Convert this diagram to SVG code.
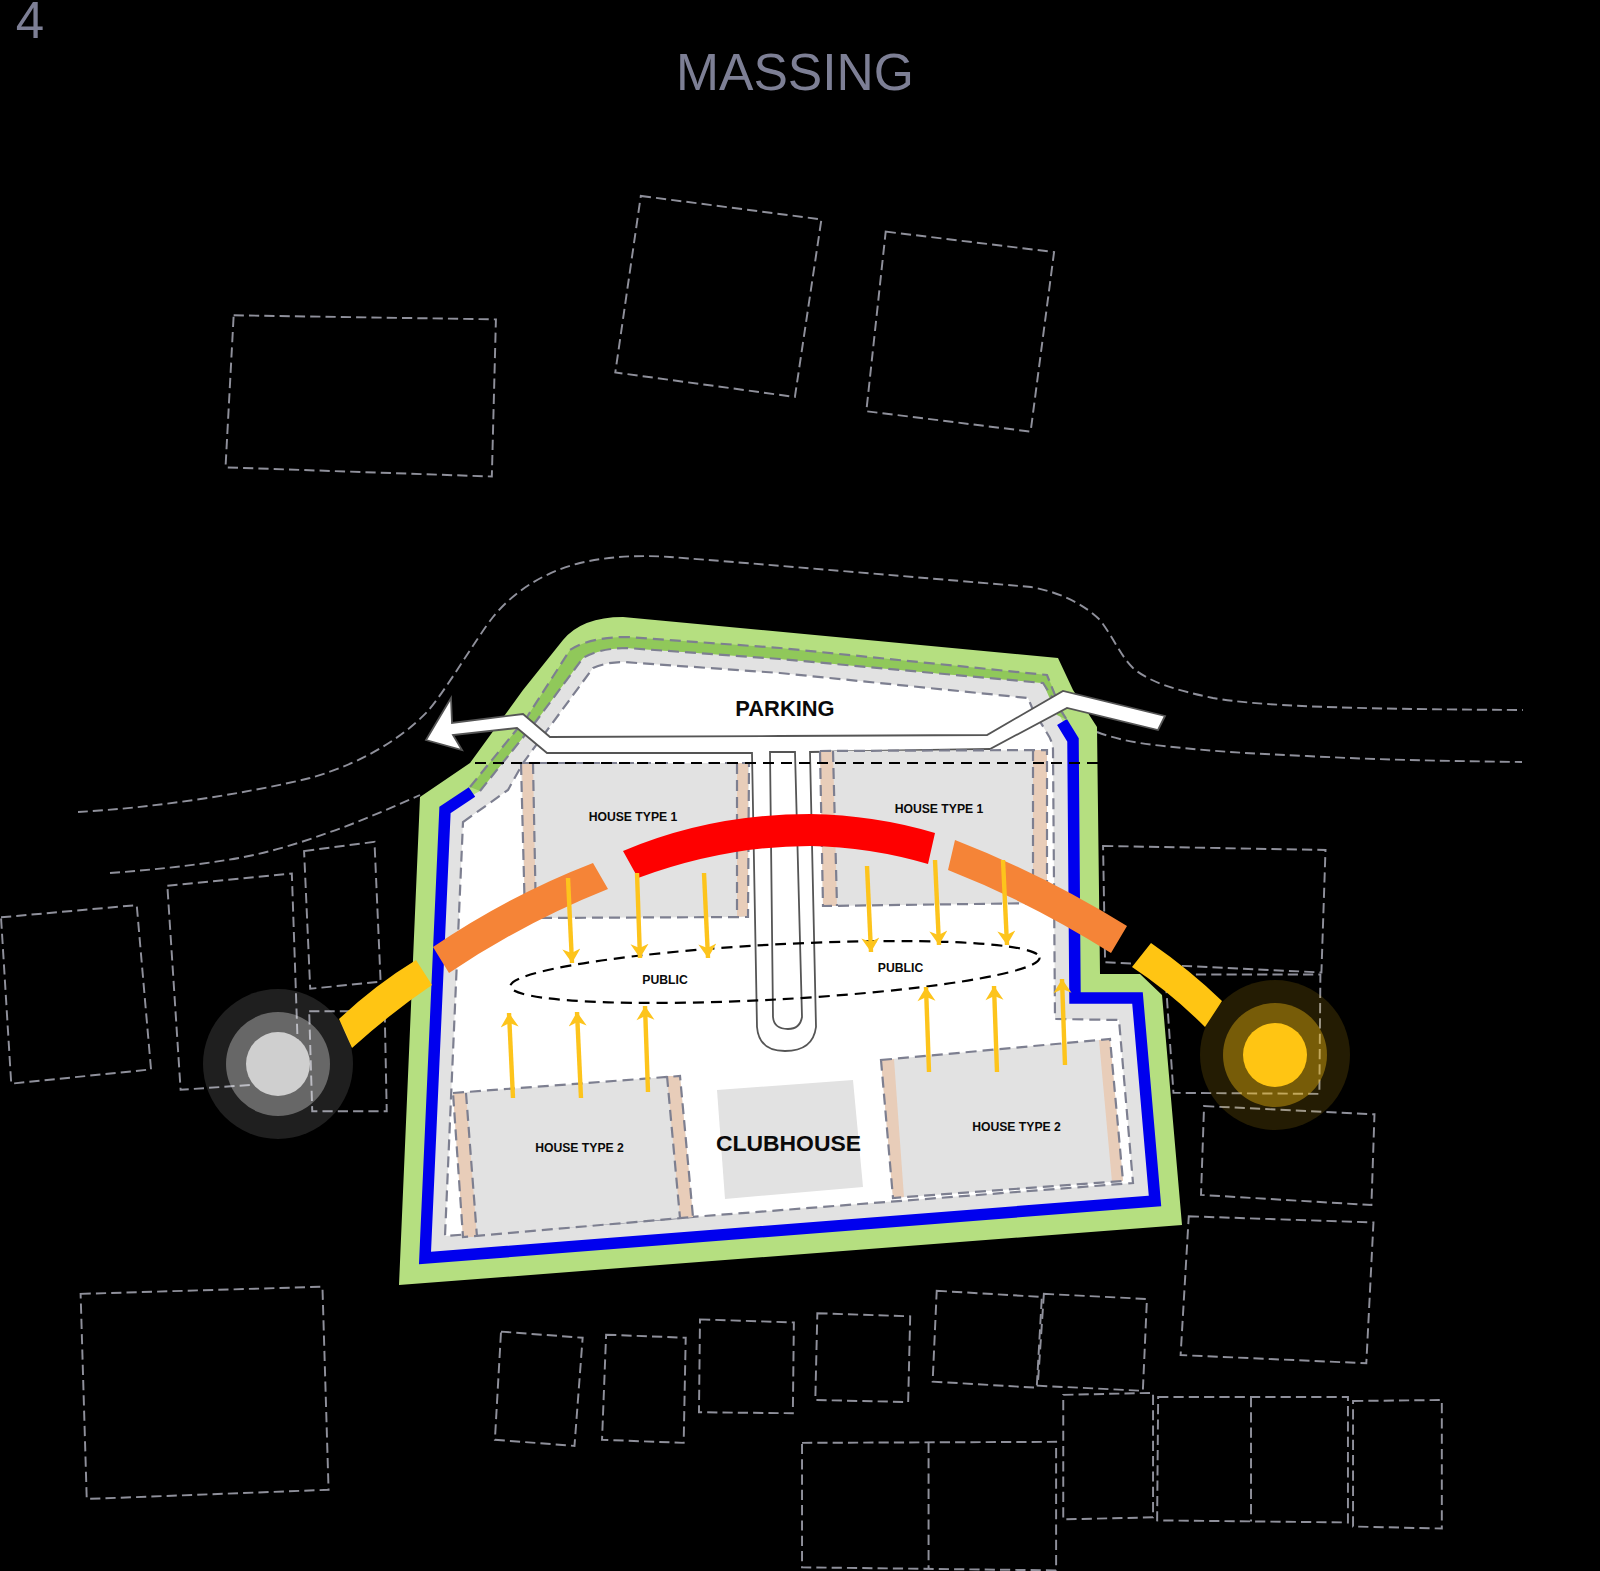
<svg xmlns="http://www.w3.org/2000/svg" width="1600" height="1571" viewBox="0 0 1600 1571">
<style>
text{font-family:"Liberation Sans",Arial,sans-serif;text-anchor:middle;fill:#0a0a0a}
.b{font-weight:700}
.s{font-size:12.2px;font-weight:700}
.ctx{fill:none;stroke:#8f909b;stroke-width:1.9;stroke-dasharray:10 5}
.gd{fill:none;stroke:#7d7f90;stroke-width:2.2;stroke-dasharray:11 6}
.house{fill:#e2e2e2}
.tan{fill:#e8cdb9}
.rd{fill:#fff;stroke:#555;stroke-width:1.8}
.ar{fill:none;stroke:#fdc41c;stroke-width:4.4;marker-end:url(#chev)}
</style>
<defs>
<marker id="chev" markerUnits="userSpaceOnUse" markerWidth="24" markerHeight="24" refX="15" refY="9" orient="auto">
<path d="M1,0 L15,9 L1,18 L5,9 Z" fill="#fdc41c"/>
</marker>
</defs>
<rect width="1600" height="1571" fill="#000"/>
<text x="30" y="38" font-size="51" style="fill:#7d7f95">4</text>
<text x="795" y="90" font-size="51.6" style="fill:#7d7f95">MASSING</text>

<g id="context" transform="scale(1.0204)">
<path class="ctx" d="M229,309 L486,313 L482,467 L221,458 Z"/>
<path class="ctx" d="M628,192 L805,215 L779,389 L603,365 Z"/>
<path class="ctx" d="M868,227 L1033,247 L1010,423 L849,403 Z"/>
<path class="ctx" d="M1,899 L134,887 L148,1048 L11,1062 Z"/>
<path class="ctx" d="M164,868 L286,856 L293,1060 L177,1068 Z"/>
<path class="ctx" d="M298,834 L367,825 L373,962 L304,969 Z"/>
<path class="ctx" d="M303,991 L377,991 L379,1089 L306,1089 Z"/>
<path class="ctx" d="M1081,829 L1299,833 L1295,953 L1083,943 Z"/>
<path class="ctx" d="M1142,955 L1294,955 L1293,1072 L1150,1071 Z"/>
<path class="ctx" d="M1180,1084 L1347,1092 L1344,1181 L1177,1171 Z"/>
<path class="ctx" d="M1165,1192 L1346,1198 L1339,1336 L1157,1328 Z"/>
<path class="ctx" d="M79,1268 L316,1261 L322,1460 L85,1469 Z"/>
<path class="ctx" d="M491,1305 L571,1311 L563,1417 L485,1411 Z"/>
<path class="ctx" d="M594,1308 L672,1311 L670,1414 L590,1411 Z"/>
<path class="ctx" d="M686,1293 L778,1296 L777,1385 L685,1384 Z"/>
<path class="ctx" d="M801,1287 L892,1290 L890,1374 L799,1372 Z"/>
<path class="ctx" d="M918,1265 L1021,1271 L1016,1360 L914,1354 Z"/>
<path class="ctx" d="M1023,1268 L1124,1273 L1120,1363 L1017,1358 Z"/>
<path class="ctx" d="M1042,1367 L1130,1365 L1130,1487 L1042,1489 Z"/>
<path class="ctx" d="M1135,1369 L1321,1369 L1321,1492 L1134,1490 Z M1226,1369 L1226,1491"/>
<path class="ctx" d="M1326,1373 L1413,1372 L1413,1498 L1326,1496 Z"/>
<path class="ctx" d="M786,1414 L1035,1413 L1035,1539 L786,1536 Z M910,1414 L910,1538"/>
</g>
<g id="roads">
<path class="ctx" d="M78,812 C150,808 240,795 310,778 C350,767 395,745 427,712 C445,692 475,640 493,617 C515,590 545,572 580,563 C610,556 640,555 670,557 C750,563 960,581 1031,587 C1060,592 1085,605 1100,620 C1115,640 1120,655 1133,668 C1150,683 1180,691 1213,698 C1260,706 1340,709 1523,710"/>
<path class="ctx" d="M110,873 C150,870 190,866 227,860 C260,855 295,845 327,833 C360,822 390,808 420,795"/>
<path class="ctx" d="M1097,732 C1120,741 1150,745 1173,747 C1220,752 1260,754 1307,756 C1380,760 1450,761 1522,762"/>
</g>

<g id="site">
<path d="M399,1285 L420,797 L470,763 L523,690 L563,640 Q582,617 623,617 L1058,658 L1073,690 L1097,727 L1100,974 L1140,974 L1162,995 L1182,1225 Z" fill="#b5df80"/>
<path d="M425,1258 L1155,1201 L1137.5,998 L1075,998 L1073,740 L1062,720 L1043,683 L780,659 L627,648 Q600,648 583,658 L537,720 L480,791 L445,810 Z" fill="#e2e2e2"/>
<path d="M472,792 L445,810 L425,1258 L1155,1201 L1137.5,998 L1075,998 L1073,740 L1062,722" fill="none" stroke="#0000ee" stroke-width="11.5"/>
<path d="M470,787 L527,717 L570,650 Q590,637 627,637 L780,648 L1047,675 L1067,720 L1057,715 L1043,683 L780,659 L627,648 Q600,648 583,658 L537,720 L480,791 Z" fill="#90c85a"/>
<path class="gd" d="M470,787 L527,717 L570,650 Q590,637 627,637 L780,648 L1047,675 L1055,695"/>
<path class="gd" d="M480,791 L537,720 L583,658 Q600,648 627,648 L780,659 L1043,683 L1067,720"/>
<path class="gd" style="fill:#fff" d="M463,822 L508,790 L523,763 L593,668 Q607,662 623,662 L780,673 L1028,698 L1033,710 L1047,733 Q1053,742 1053,750 L1055,1019 L1119,1020 L1133,1183 L445,1236 Z"/>
</g>

<g id="road" >
<path class="rd" d="M426,740 L451,698 L452,723 L523,714 L550,737 L780,736 L987,735 L1063,691 L1165,716 L1158,730 L1067,708 L990,749 L810,752 L816,1027 Q813,1051 785,1051 Q759,1051 757,1027 L752,753 L547,753 L517,728 L453,735 L462,750 Z"/>
<path class="rd" d="M770,752 L795,752 L802,1017 Q800,1029 788,1029 Q774,1029 773,1017 Z"/>
</g>

<g id="house-1-left">
<path class="house" d="M521,763 L749,763 L748,917 L525,918 Z"/>
<path class="tan" d="M522,763 L533,763 L536,918 L525,918 Z M737,763 L748,763 L748,916 L737,917 Z"/>
<path class="gd" d="M521,763 L749,763 L748,917 L525,918 Z M533,763 L536,918 M737,763 L737,917"/>
<text class="s" x="633" y="821">HOUSE TYPE 1</text>
</g>
<g id="house-1-right">
<path class="house" d="M820,751 L1047,750 L1047,903 L823,906 Z"/>
<path class="tan" d="M820,751 L833,751 L837,906 L823,906 Z M1033,750 L1047,750 L1047,903 L1033,903 Z"/>
<path class="gd" d="M820,751 L1047,750 L1047,903 L823,906 Z M833,751 L837,906 M1033,750 L1033,903"/>
<text class="s" x="939" y="813">HOUSE TYPE 1</text>
</g>
<g id="house-2-left">
<path class="house" d="M453,1093 L680,1076 L693,1217 L463,1237 Z"/>
<path class="tan" d="M453,1093 L466,1093 L477,1237 L463,1237 Z M667,1076 L680,1076 L693,1217 L680,1218 Z"/>
<path class="gd" d="M453,1093 L680,1076 L693,1217 L463,1237 Z M466,1093 L477,1237 M667,1076 L680,1218"/>
<text class="s" x="579.5" y="1152">HOUSE TYPE 2</text>
</g>
<g id="house-2-right">
<path class="house" d="M881,1060 L1110,1039 L1123,1181 L893,1198 Z"/>
<path class="tan" d="M881,1060 L894,1059 L904,1197 L893,1198 Z M1099,1040 L1110,1039 L1123,1181 L1112,1182 Z"/>
<path class="gd" d="M881,1060 L1110,1039 L1123,1181 L893,1198 Z"/>
<text class="s" x="1016.5" y="1131">HOUSE TYPE 2</text>
</g>
<g id="clubhouse">
<path class="house" d="M717,1090 L853,1080 L863,1187 L725,1199 Z"/>
<text class="b" x="788.5" y="1151" font-size="22.9">CLUBHOUSE</text>
</g>
<g id="parking"><text class="b" x="785" y="716" font-size="21.9">PARKING</text></g>

<g id="public">
<ellipse cx="775" cy="972" rx="265" ry="27.5" transform="rotate(-3.1 775 972)" fill="none" stroke="#000" stroke-width="2.2" stroke-dasharray="11 7"/>
<text class="s" x="665" y="984">PUBLIC</text>
<text class="s" x="900.5" y="972">PUBLIC</text>
</g>
<path d="M475,763 H1100" fill="none" stroke="#000" stroke-width="2" stroke-dasharray="11 7"/>

<g id="spine">
<path d="M339,1019 Q375,985 416,960 L432,985 Q392,1012 352,1048 Z" fill="#ffc513"/>
<path d="M433,947 Q510,895 593,863 L608,889 Q525,922 449,973 Z" fill="#f58437"/>
<path d="M623,851 Q710,814 810,814 Q875,815 935,833 L928,864 Q870,847 810,846 Q725,846 638,878 Z" fill="#fe0000"/>
<path d="M955,840 Q1045,875 1127,926 L1111,953 Q1030,902 948,870 Z" fill="#f58437"/>
<path d="M1151,943 Q1190,970 1222,1001 L1205,1027 Q1170,992 1132,967 Z" fill="#ffc513"/>
</g>
<g id="node-left">
<circle cx="278" cy="1064" r="75" fill="#fff" fill-opacity=".12"/>
<circle cx="278" cy="1064" r="52" fill="#fff" fill-opacity=".32"/>
<circle cx="278" cy="1064" r="32" fill="#cfcfcf"/>
</g>
<g id="node-right">
<circle cx="1275" cy="1055" r="75" fill="#ffc513" fill-opacity=".14"/>
<circle cx="1275" cy="1055" r="52" fill="#ffc513" fill-opacity=".38"/>
<circle cx="1275" cy="1055" r="32" fill="#ffc513"/>
</g>

<g id="connectors">
<path class="ar" d="M568,878 L572,963"/>
<path class="ar" d="M637,873 L640,958"/>
<path class="ar" d="M704,873 L708,958"/>
<path class="ar" d="M867,866 L871,952"/>
<path class="ar" d="M935,860 L939,945"/>
<path class="ar" d="M1003,860 L1007,945"/>
<path class="ar" d="M513,1098 L509,1013"/>
<path class="ar" d="M581,1098 L577,1012"/>
<path class="ar" d="M648,1092 L645,1006"/>
<path class="ar" d="M929,1072 L926,987"/>
<path class="ar" d="M997,1072 L994,986"/>
<path class="ar" d="M1065,1065 L1062,979"/>
</g>
</svg>
